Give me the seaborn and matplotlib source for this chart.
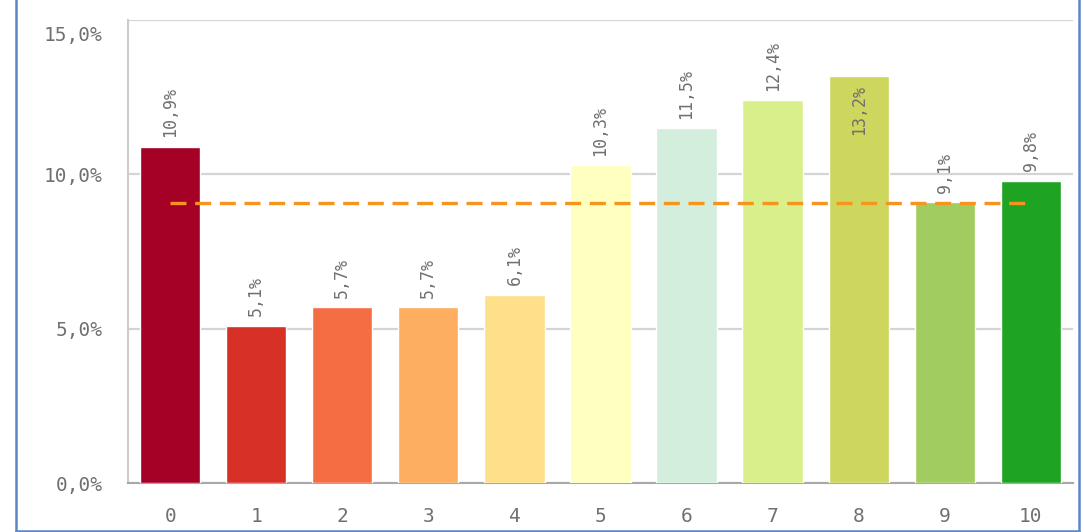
import numpy as np
import pandas as pd
import matplotlib
matplotlib.use("Agg")
import matplotlib.pyplot as plt
import matplotlib.transforms as mtransforms
import seaborn as sns
from matplotlib.lines import Line2D

# Data
categories = ["0", "1", "2", "3", "4", "5", "6", "7", "8", "9", "10"]
values = [10.9, 5.1, 5.7, 5.7, 6.1, 10.3, 11.5, 12.4, 13.2, 9.1, 9.8]
bar_colors = ["#A50026", "#D73027", "#F46D43", "#FDAE61", "#FEE08B", "#FFFFBF",
              "#D3EEDD", "#D9EF8B", "#CDD65D", "#A1CC5F", "#1FA323"]
y_ticks = [0, 5, 10, 15]

sns.set_theme(style="white")
plt.rcParams["font.family"] = ["DejaVu Sans Mono", "DejaVu Sans"]

df = pd.DataFrame({"cat": categories, "val": values})
mean_val = float(np.mean(values))

fig = plt.figure(figsize=(10.84, 5.32), dpi=100)
ax = fig.add_axes([0.1181, 0.0921, 0.8717, 0.8703])

sns.barplot(data=df, x="cat", y="val", hue="cat", order=categories,
            palette=bar_colors, width=0.7, saturation=1, legend=False,
            ax=ax, zorder=3)

# average line
ax.plot([0, len(categories) - 1], [mean_val, mean_val], color="#F7941D",
        lw=2.4, dashes=(4.8, 2.6), zorder=4)

text_col = "#707070"
for i, v in enumerate(values):
    lbl = f"{v:.1f}%".replace(".", ",")
    if v > 13:
        ax.text(i, v - 0.3, lbl, rotation=90, ha="center", va="top",
                fontsize=12, color=text_col, zorder=5)
    else:
        ax.text(i, v + 0.3, lbl, rotation=90, ha="center", va="bottom",
                fontsize=12, color=text_col, zorder=5)

ax.set_xlim(-0.49, len(categories) - 0.51)
ax.set_ylim(0, 15)
ax.set_yticks(y_ticks)
ax.set_yticklabels([f"{t:.1f}%".replace(".", ",") for t in y_ticks])
ax.set_xlabel("")
ax.set_ylabel("")
ax.yaxis.grid(True, color="#D4D4D4", lw=1.6, zorder=0)
ax.set_axisbelow(True)
ax.tick_params(axis="y", length=11.5, width=1.2, color="#D4D4D4",
               labelsize=14, labelcolor=text_col, pad=7)
ax.tick_params(axis="x", length=0, labelsize=14, labelcolor=text_col, pad=17)

# top tick label sits a bit lower, inside the panel
top_lbl = ax.get_yticklabels()[-1]
top_lbl.set_transform(top_lbl.get_transform() +
                      mtransforms.ScaledTranslation(0, -13 / 100, fig.dpi_scale_trans))

for s in ["top", "right"]:
    ax.spines[s].set_visible(False)
ax.spines["left"].set_color("#CCCCCC")
ax.spines["left"].set_linewidth(1.5)
ax.spines["bottom"].set_color("#A8A8A8")
ax.spines["bottom"].set_linewidth(1.5)

# blue frame around the panel (open at the top)
frame_kw = dict(transform=fig.transFigure, color="#5B87C8", lw=1.8)
x0, x1, y0 = 16 / 1084, 1079 / 1084, 1.5 / 532
fig.add_artist(Line2D([x0, x0], [y0, 1.0], **frame_kw))
fig.add_artist(Line2D([x1, x1], [y0, 1.0], **frame_kw))
fig.add_artist(Line2D([x0, x1], [y0, y0], **frame_kw))

fig.savefig("out.png", dpi=100)
